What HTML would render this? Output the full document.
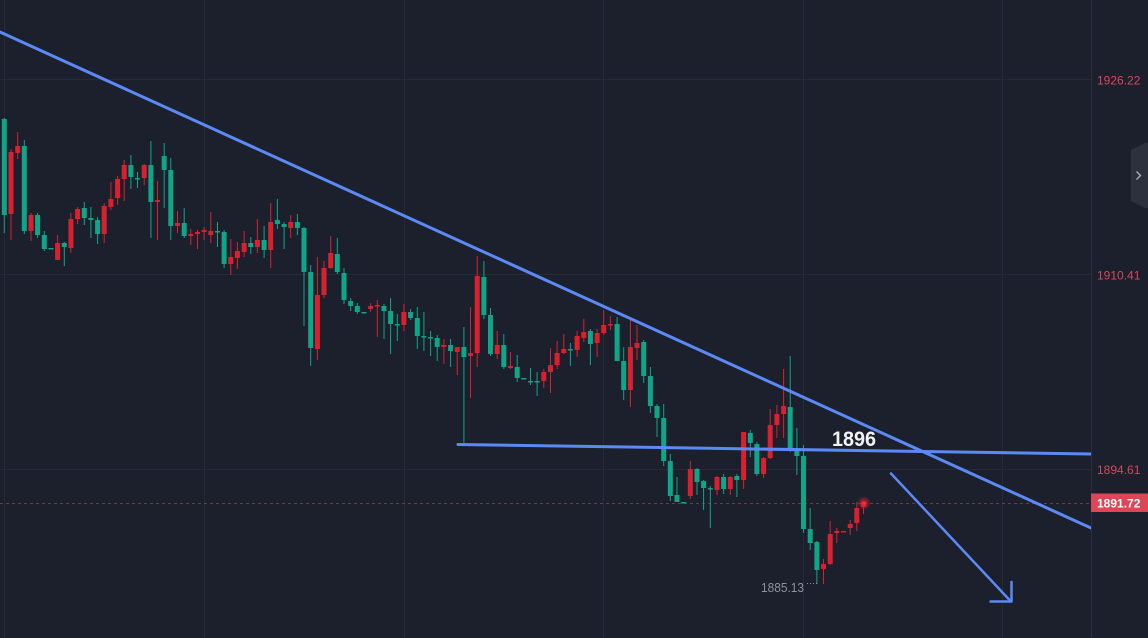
<!DOCTYPE html>
<html><head><meta charset="utf-8"><style>
html,body{margin:0;padding:0;background:#1b202c;overflow:hidden;}
svg{display:block;}
text{font-family:"Liberation Sans",sans-serif;}
</style></head><body>
<svg width="1148" height="638" viewBox="0 0 1148 638" xmlns="http://www.w3.org/2000/svg">
<defs>
<clipPath id="pl"><rect x="0" y="0" width="1091" height="638"/></clipPath>
<radialGradient id="glow"><stop offset="0" stop-color="#ff3a4a" stop-opacity="0.9"/><stop offset="0.5" stop-color="#e0202f" stop-opacity="0.5"/><stop offset="1" stop-color="#e0202f" stop-opacity="0"/></radialGradient>
</defs>
<rect x="0" y="0" width="1148" height="638" fill="#1b202c"/>
<g stroke="#242a37" stroke-width="1">
<path d="M4.5 0V638M204.5 0V638M404.5 0V638M603.5 0V638M803.5 0V638M1002.5 0V638"/>
<path d="M0 79.5H1091M0 274.5H1091M0 469.5H1091"/>
</g>
<path d="M1091.5 0V638" stroke="#2a303d" stroke-width="1"/>
<g clip-path="url(#pl)">
<path d="M0 503.5H1091" stroke="#7a3442" stroke-width="1" stroke-dasharray="3 3"/>
<!-- green wicks -->
<path stroke="#0fa589" stroke-width="1" fill="none" d="M4.3 118V233M24.3 140V234M37.6 213V238M44.3 231V251M64.3 242V266M84.3 202V225M90.9 207V238M97.6 217V244M130.9 155V189M137.5 172V188M150.9 141V238M164.2 143V208M170.8 158V240M184.2 208V238M217.5 222V247M224.1 230V268M250.8 237V254M264.1 226V258M277.4 199V229M284.1 222V249M297.4 214V235M304 227V326M310.7 265V366M337.3 238V274M344 268V304M350.7 298V311M357.3 303V314M384 304V339M390.6 298V354M397.3 314V341M410.6 309V320M417.3 307V349M423.9 312V351M430.6 331V356M437.2 335V361M450.6 339V367M463.9 327V443M483.9 261V319M490.5 308V356M503.8 334V369M517.2 355V382M530.5 368V385M537.1 372V396M570.4 343V366M590.4 329V365M617.1 317V361M623.7 347V400M643.7 340V383M650.4 367V413M657 404V437M663.7 404V466M670.3 454V501M677 477V502M697 468V495M703.6 480V510M710.3 486V528M723.6 474V494M736.9 474V497M750.3 430V457M756.9 442V476M790.2 356V452M796.9 428V475M803.5 445V533M810.2 508V550M816.9 541V584"/>
<!-- green bodies -->
<g fill="#0fa589">
<rect x="1.8" y="119" width="5" height="96"/><rect x="21.8" y="146" width="5" height="85"/><rect x="35.1" y="215" width="5" height="20"/><rect x="41.8" y="235" width="5" height="14"/><rect x="48.5" y="248" width="5" height="1.5"/><rect x="61.8" y="243" width="5" height="4"/><rect x="81.8" y="208" width="5" height="10"/><rect x="88.4" y="218" width="5" height="2"/><rect x="95.1" y="220" width="5" height="14"/><rect x="128.4" y="165" width="5" height="12"/><rect x="135" y="178" width="5" height="1.5"/><rect x="148.4" y="165" width="5" height="37"/><rect x="161.7" y="156" width="5" height="14"/><rect x="168.3" y="170" width="5" height="56"/><rect x="181.7" y="223" width="5" height="13"/><rect x="215" y="231" width="5" height="1.5"/><rect x="221.6" y="232" width="5" height="32"/><rect x="248.3" y="243" width="5" height="4"/><rect x="261.6" y="240" width="5" height="10"/><rect x="274.9" y="220" width="5" height="4"/><rect x="281.6" y="224" width="5" height="3"/><rect x="294.9" y="222" width="5" height="6"/><rect x="301.5" y="228" width="5" height="44"/><rect x="308.2" y="272" width="5" height="76"/><rect x="334.8" y="254" width="5" height="18"/><rect x="341.5" y="273" width="5" height="27"/><rect x="348.2" y="301" width="5" height="5"/><rect x="354.8" y="306" width="5" height="6"/><rect x="361.5" y="312" width="5" height="1.5"/><rect x="381.5" y="306" width="5" height="5"/><rect x="388.1" y="311" width="5" height="13"/><rect x="394.8" y="324" width="5" height="1.5"/><rect x="408.1" y="312" width="5" height="6"/><rect x="414.8" y="318" width="5" height="18"/><rect x="421.4" y="336" width="5" height="1.5"/><rect x="428.1" y="337" width="5" height="1.5"/><rect x="434.7" y="338" width="5" height="9"/><rect x="448.1" y="345" width="5" height="6"/><rect x="461.4" y="347" width="5" height="10"/><rect x="481.4" y="277" width="5" height="38"/><rect x="488" y="315" width="5" height="39"/><rect x="501.3" y="345" width="5" height="22"/><rect x="514.7" y="367" width="5" height="11"/><rect x="521.3" y="378" width="5" height="1.5"/><rect x="528" y="381" width="5" height="1.5"/><rect x="534.6" y="381" width="5" height="1.5"/><rect x="567.9" y="349" width="5" height="1.5"/><rect x="587.9" y="331" width="5" height="13"/><rect x="614.6" y="324" width="5" height="37"/><rect x="621.2" y="361" width="5" height="29"/><rect x="641.2" y="342" width="5" height="34"/><rect x="647.9" y="376" width="5" height="30"/><rect x="654.5" y="406" width="5" height="12"/><rect x="661.2" y="418" width="5" height="43"/><rect x="667.8" y="461" width="5" height="35"/><rect x="674.5" y="495" width="5" height="7"/><rect x="681.2" y="502" width="5" height="1.5"/><rect x="694.5" y="469" width="5" height="13"/><rect x="701.1" y="481" width="5" height="7"/><rect x="707.8" y="488" width="5" height="1.5"/><rect x="721.1" y="477" width="5" height="12"/><rect x="734.4" y="476" width="5" height="4"/><rect x="747.8" y="433" width="5" height="10"/><rect x="754.4" y="444" width="5" height="30"/><rect x="787.7" y="407" width="5" height="42"/><rect x="794.4" y="449" width="5" height="7"/><rect x="801" y="456" width="5" height="73"/><rect x="807.7" y="529" width="5" height="14"/><rect x="814.4" y="542" width="5" height="28"/>
</g>
<!-- red wicks -->
<path stroke="#d8202f" stroke-width="1" fill="none" d="M11 149V240M17.7 132V159M31 213V241M57.6 235V260M70.9 213V253M77.6 207V224M104.2 203V243M110.9 182V210M117.6 176V205M124.2 160V201M144.2 164V185M157.5 181V240M177.5 211V233M190.8 229V245M197.5 230V249M204.1 227V240M210.8 212V243M230.8 239V275M237.4 242V269M244.1 231V257M257.4 219V253M270.7 203V268M290.7 215V238M317.4 257V360M324 261V298M330.7 236V269M370.6 303V312M377.3 300V337M403.9 304V331M443.9 339V364M457.2 347V375M470.5 307V398M477.2 256V367M497.2 331V359M510.5 352V369M543.8 369V388M550.5 348V393M557.1 341V369M563.8 334V354M577.1 331V357M583.8 319V342M597.1 329V357M603.7 310V335M610.4 316V330M630.4 320V407M637 325V360M690.3 461V499M717 476V495M730.3 476V495M743.6 432V489M763.6 457V478M770.2 409V459M776.9 405V438M783.6 369V438M823.5 559V584M830.2 521V565M836.8 528V543M850.2 520V535M856.8 502V531M863.5 502V514"/>
<g fill="#d8202f">
<rect x="8.5" y="152" width="5" height="62"/><rect x="15.2" y="146" width="5" height="7"/><rect x="28.5" y="215" width="5" height="16"/><rect x="55.1" y="243" width="5" height="17"/><rect x="68.4" y="219" width="5" height="29"/><rect x="75.1" y="209" width="5" height="10"/><rect x="101.7" y="206" width="5" height="28"/><rect x="108.4" y="199" width="5" height="8"/><rect x="115.1" y="179" width="5" height="19"/><rect x="121.7" y="165" width="5" height="14"/><rect x="141.7" y="165" width="5" height="13"/><rect x="155" y="200" width="5" height="2"/><rect x="175" y="223" width="5" height="3"/><rect x="188.3" y="234" width="5" height="2"/><rect x="195" y="232" width="5" height="2"/><rect x="201.6" y="230" width="5" height="2"/><rect x="208.3" y="231" width="5" height="4"/><rect x="228.3" y="257" width="5" height="7"/><rect x="234.9" y="251" width="5" height="7"/><rect x="241.6" y="243" width="5" height="9"/><rect x="254.9" y="240" width="5" height="7"/><rect x="268.2" y="222" width="5" height="28"/><rect x="288.2" y="222" width="5" height="6"/><rect x="314.9" y="295" width="5" height="54"/><rect x="321.5" y="268" width="5" height="27"/><rect x="328.2" y="253" width="5" height="15"/><rect x="368.1" y="306" width="5" height="3"/><rect x="374.8" y="305" width="5" height="1.5"/><rect x="401.4" y="312" width="5" height="13"/><rect x="441.4" y="345" width="5" height="2"/><rect x="454.7" y="347" width="5" height="5"/><rect x="468" y="353" width="5" height="3"/><rect x="474.7" y="276" width="5" height="77"/><rect x="494.7" y="345" width="5" height="9"/><rect x="508" y="366" width="5" height="2"/><rect x="541.3" y="372" width="5" height="9"/><rect x="548" y="365" width="5" height="7"/><rect x="554.6" y="353" width="5" height="12"/><rect x="561.3" y="349" width="5" height="4"/><rect x="574.6" y="336" width="5" height="14"/><rect x="581.3" y="332" width="5" height="6"/><rect x="594.6" y="333" width="5" height="10"/><rect x="601.2" y="325" width="5" height="8"/><rect x="607.9" y="324" width="5" height="1.5"/><rect x="627.9" y="347" width="5" height="43"/><rect x="634.5" y="343" width="5" height="5"/><rect x="687.8" y="469" width="5" height="27"/><rect x="714.5" y="477" width="5" height="13"/><rect x="727.8" y="477" width="5" height="12"/><rect x="741.1" y="432" width="5" height="48"/><rect x="761.1" y="458" width="5" height="16"/><rect x="767.7" y="425" width="5" height="33"/><rect x="774.4" y="414" width="5" height="11"/><rect x="781.1" y="406" width="5" height="8"/><rect x="821" y="564" width="5" height="5"/><rect x="827.7" y="534" width="5" height="30"/><rect x="834.3" y="531" width="5" height="2"/><rect x="841" y="531" width="5" height="1.5"/><rect x="847.7" y="524" width="5" height="4"/><rect x="854.3" y="508" width="5" height="15"/><rect x="861" y="502" width="5" height="5"/>
</g>
<circle cx="864" cy="503" r="7" fill="url(#glow)"/>
<!-- drawings -->
<g stroke="#5b89f5" fill="none" stroke-linecap="round">
<path d="M0 32L1091 528" stroke-width="3"/>
<path d="M458 444.5L1091 454" stroke-width="3"/>
<path d="M891 473.5L1010 600.5" stroke-width="2.5"/>
<path d="M1011.5 582V601.5H990.5" stroke-width="2.5" stroke-linejoin="round"/>
</g>
<text x="832" y="446" font-size="21" font-weight="bold" fill="#f2f2f2" textLength="44" lengthAdjust="spacingAndGlyphs">1896</text>
<text x="761" y="592" font-size="12.5" fill="#8c929e" textLength="43" lengthAdjust="spacingAndGlyphs">1885.13</text>
<path d="M807 583.5H818" stroke="#8c929e" stroke-width="1" stroke-dasharray="1 2"/>
</g>
<!-- price axis -->
<g font-size="12" fill="#d9475a">
<text x="1097" y="84.5">1926.22</text>
<text x="1097" y="279.5">1910.41</text>
<text x="1097" y="474">1894.61</text>
</g>
<rect x="1091" y="493.5" width="57" height="18.5" fill="#dd4657"/>
<text x="1097" y="507.5" font-size="12" font-weight="bold" fill="#ffffff">1891.72</text>
<path d="M1131 150L1145 143H1148V208H1145L1131 201Z" fill="#2c313d"/>
<path d="M1136.5 171.5L1140.5 175.5L1136.5 179.5" stroke="#a0a6b2" stroke-width="1.5" fill="none"/>
</svg>
</body></html>
